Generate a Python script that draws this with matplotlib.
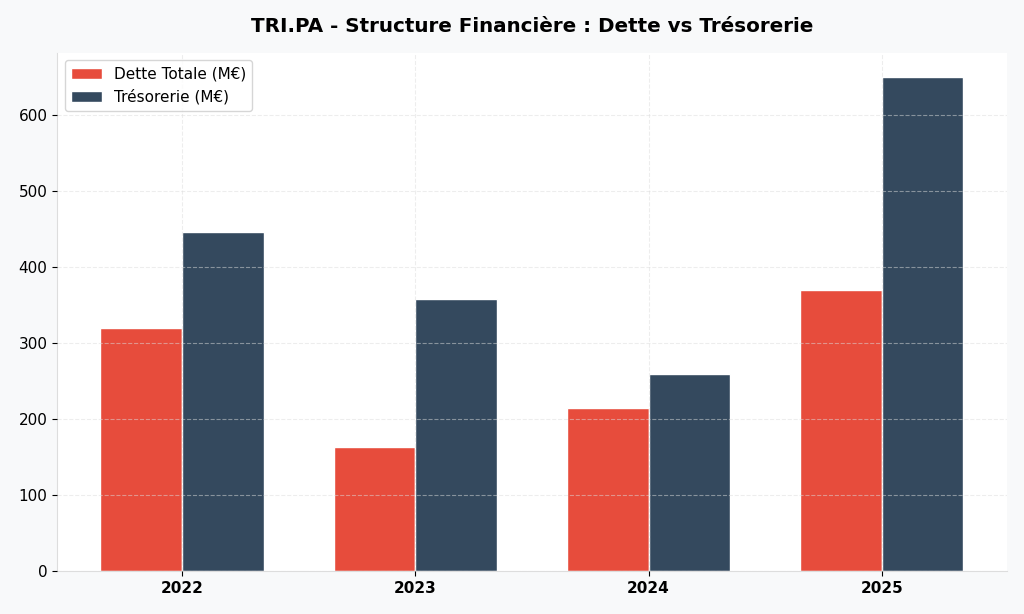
import matplotlib

matplotlib.use("Agg")
import matplotlib.pyplot as plt  # noqa: E402
import numpy as np  # noqa: E402

YEARS = ["2022", "2023", "2024", "2025"]
DETTE = [320, 163, 215, 370]
TRESORERIE = [446, 358, 260, 650]

RED = "#e74c3c"
NAVY = "#34495e"

fig, ax = plt.subplots(figsize=(10.24, 6.14), dpi=100)
fig.patch.set_facecolor("#f8f9fa")
ax.set_facecolor("white")

x = np.arange(len(YEARS))
w = 0.35
ax.bar(x - w / 2, DETTE, w, color=RED, edgecolor="white", linewidth=1,
       label="Dette Totale (M€)")
ax.bar(x + w / 2, TRESORERIE, w, color=NAVY, edgecolor="white", linewidth=1,
       label="Trésorerie (M€)")

ax.set_xticks(x)
ax.set_xticklabels(YEARS, fontsize=11, fontweight="bold")
ax.tick_params(axis="y", labelsize=11)
ax.set_title("TRI.PA - Structure Financière : Dette vs Trésorerie",
             fontsize=14.3, fontweight="bold", pad=15)
ax.grid(True, ls="--", alpha=0.5, color="#dddddd")
ax.set_axisbelow(False)
for side in ("top", "right"):
    ax.spines[side].set_visible(False)
for side in ("left", "bottom"):
    ax.spines[side].set_color("#dddddd")
ax.legend(fontsize=11, loc="upper left")

fig.subplots_adjust(left=0.056, right=0.983, top=0.914, bottom=0.07)
fig.savefig("out.png", dpi=100, facecolor=fig.get_facecolor())
